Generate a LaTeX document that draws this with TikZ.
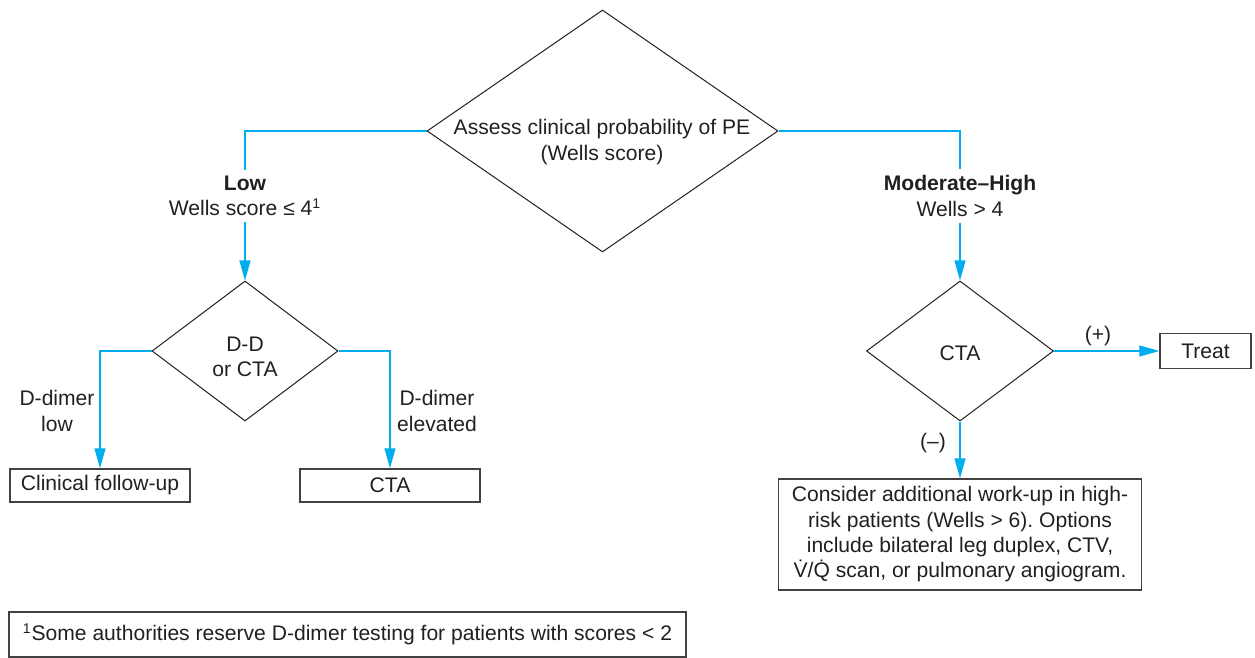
\documentclass[tikz,border=0pt]{standalone}
\usepackage{fontspec}
\setmainfont{Liberation Sans}
\usepackage{tikz}
\usetikzlibrary{positioning,arrows.meta,shapes.geometric}
\definecolor{pecyan}{HTML}{00AEEF}
\definecolor{peink}{HTML}{231F20}
\newcommand\pefont{\fontsize{12}{14.4}\selectfont}
\frenchspacing
\tikzset{
  dec/.style={diamond, draw=peink, line width=0.2mm, inner sep=0pt},
  outbox/.style={draw=peink!85, line width=0.3mm, inner sep=0pt, align=center,
                 font=\pefont, text=peink},
  txt/.style={align=center, font=\pefont, text=peink, inner sep=0pt},
  flowline/.style={line width=0.25mm, draw=pecyan},
  flowarr/.style={flowline, -{Triangle[length=4mm, width=2.2mm]}},
}

\begin{document}
\begin{tikzpicture}[x=0.2mm, y=-0.2mm]
  \useasboundingbox (0,0) rectangle (1255,658);
  % decisions
  \node[dec, minimum width=70.2mm, minimum height=48.4mm] (assess) at (602.5,131) {};
  \node[txt] (assesstxt) at (602,142) {Assess clinical probability of PE\\(Wells score)};
  \node[dec, minimum width=37.2mm, minimum height=28mm] (dd) at (245,351) {};
  \node[txt] (ddtxt) at (245,357) {D-D\\or CTA};
  \node[dec, minimum width=37.4mm, minimum height=28mm] (ctadec) at (960,351) {};
  \node[txt] (ctadectxt) at (960,353) {CTA};
  % branch labels
  \node[txt, inner ysep=1.2mm] (lowlbl) at (245,196) {\textbf{Low}\\Wells score ≤ 4\textsuperscript{1}};
  \node[txt, inner ysep=1.2mm] (highlbl) at (960,196) {\textbf{Moderate--High}\\Wells > 4};
  \node[txt] (ddlow) at (57,411) {D-dimer\\low};
  \node[txt] (ddhigh) at (437,411) {D-dimer\\elevated};
  \node[txt] (pluslbl) at (1098,336) {(+)};
  \node[txt] (minuslbl) at (933,443) {(--)};
  % outcomes
  \node[outbox, minimum width=36mm, minimum height=6.6mm] (followup) at (100,485.5) {Clinical follow-up};
  \node[outbox, minimum width=36mm, minimum height=6.6mm] (ctabox) at (390,485.5) {CTA};
  \node[outbox, minimum width=18.2mm, minimum height=7mm] (treat) at (1205.5,351) {Treat};
  \node[outbox, minimum width=72.6mm, minimum height=22.2mm] (workup) at (960,534.5)
       {Consider additional work-up in high-\\risk patients (Wells > 6). Options\\include bilateral leg duplex, CTV,\\\.{V}/\.{Q} scan, or pulmonary angiogram.};
  % footnote
  \node[outbox, minimum width=135.4mm, minimum height=9mm] (note) at (347.5,634.5)
       {\textsuperscript{1}Some authorities reserve D-dimer testing for patients with scores < 2};
  % connectors
  \draw[flowline] (assess.west) -| (lowlbl.north);
  \draw[flowarr] (lowlbl.south) -- (dd.north);
  \draw[flowline] (assess.east) -| (highlbl.north);
  \draw[flowarr] (highlbl.south) -- (ctadec.north);
  \draw[flowarr] (dd.west) -| (followup.north);
  \draw[flowarr] (dd.east) -| (ctabox.north);
  \draw[flowarr] (ctadec.east) -- (treat.west);
  \draw[flowarr] (ctadec.south) -- (workup.north);
\end{tikzpicture}
\end{document}
